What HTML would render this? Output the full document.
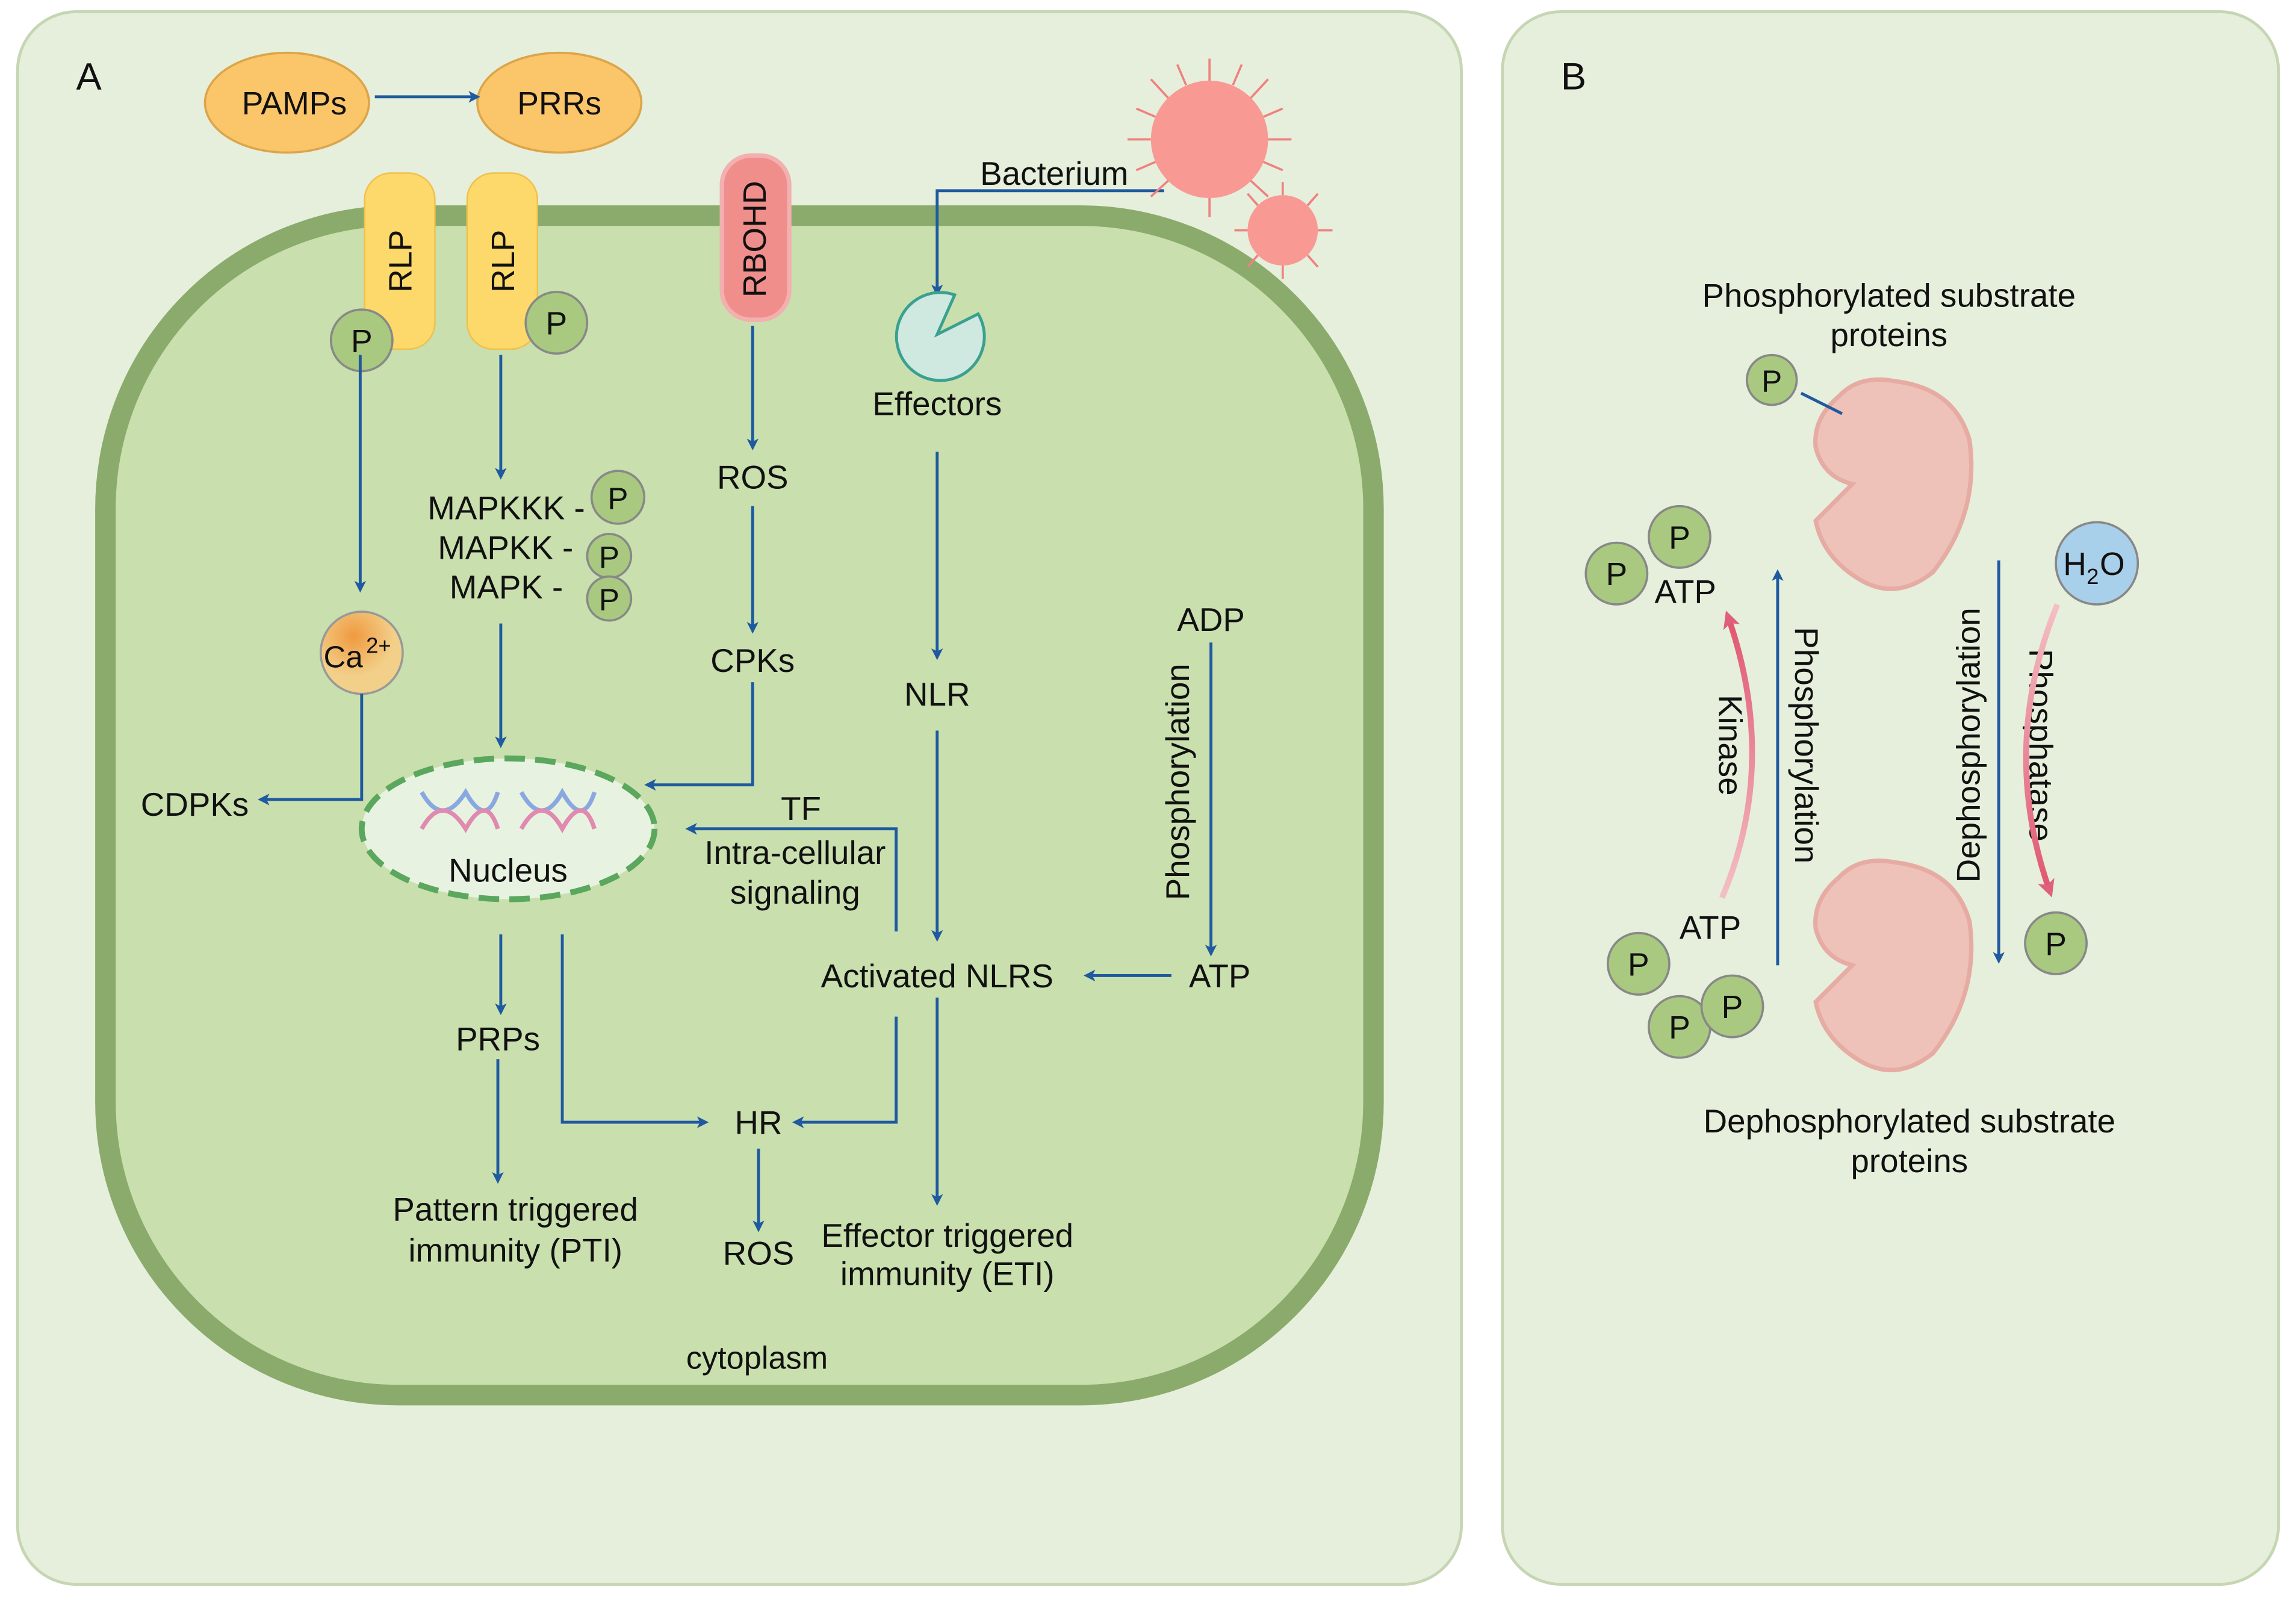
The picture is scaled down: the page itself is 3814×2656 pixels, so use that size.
<!DOCTYPE html>
<html><head><meta charset="utf-8"><style>
html,body{margin:0;padding:0;background:#fff;}
svg{display:block;}
text{font-family:"Liberation Sans",sans-serif;fill:#111;}
</style></head><body>
<svg width="3814" height="2656" viewBox="0 0 1568 1090" preserveAspectRatio="none" xmlns="http://www.w3.org/2000/svg">
<defs>
<marker id="a" markerWidth="8" markerHeight="8" refX="6" refY="4" orient="auto" markerUnits="userSpaceOnUse"><path d="M0,0 L8,4 L0,8 L2,4 z" fill="#1f5aa0"/></marker>
<marker id="pa" markerWidth="12" markerHeight="12" refX="8" refY="6" orient="auto" markerUnits="userSpaceOnUse"><path d="M0,0 L12,6 L0,12 L3,6 z" fill="#e0607a"/></marker>
<radialGradient id="ca" cx="0.4" cy="0.3"><stop offset="0" stop-color="#f09a40"/><stop offset="1" stop-color="#f2d08a"/></radialGradient>
<linearGradient id="pk1" x1="0" y1="1" x2="0" y2="0"><stop offset="0" stop-color="#f4c0c4"/><stop offset="1" stop-color="#e05570"/></linearGradient>
<linearGradient id="pk2" x1="0" y1="0" x2="0" y2="1"><stop offset="0" stop-color="#f4c0c4"/><stop offset="1" stop-color="#e05570"/></linearGradient>
</defs>
<rect x="0" y="0" width="1568" height="1090" fill="#fff"/>
<rect x="12" y="8" width="986" height="1072" rx="40" fill="#e6efdb" stroke="#c6d6b4" stroke-width="2"/>
<rect x="1026" y="8" width="530" height="1072" rx="40" fill="#e6efdb" stroke="#c6d6b4" stroke-width="2"/>
<text x="52" y="61" font-size="26">A</text>
<text x="1066" y="61" font-size="26">B</text>
<rect x="72" y="147" width="866" height="804" rx="200" fill="#c9dfad" stroke="#8aab6c" stroke-width="14"/>
<ellipse cx="196" cy="70" rx="56" ry="34" fill="#fbc56a" stroke="#dca54a" stroke-width="1.5"/>
<ellipse cx="382" cy="70" rx="56" ry="34" fill="#fbc56a" stroke="#dca54a" stroke-width="1.5"/>
<text x="201" y="78" font-size="22" text-anchor="middle">PAMPs</text>
<text x="382" y="78" font-size="22" text-anchor="middle">PRRs</text>
<line x1="256" y1="66" x2="326" y2="66" stroke="#1f5aa0" stroke-width="2" marker-end="url(#a)"/>
<rect x="249" y="118" width="48" height="120" rx="18" fill="#fdd86a" stroke="#f0c04a"/>
<rect x="319" y="118" width="48" height="120" rx="18" fill="#fdd86a" stroke="#f0c04a"/>
<text transform="translate(281,178) rotate(-90)" font-size="22" text-anchor="middle">RLP</text>
<text transform="translate(351,178) rotate(-90)" font-size="22" text-anchor="middle">RLP</text>
<rect x="493" y="106" width="46" height="112" rx="20" fill="#f08e8c" stroke="#f2b0b0" stroke-width="3"/>
<text transform="translate(523,163) rotate(-90)" font-size="22" text-anchor="middle">RBOHD</text>
<g stroke="#888" stroke-width="1.5" fill="#a8c97f">
<circle cx="247" cy="232" r="21"/><circle cx="380" cy="220" r="21"/>
<circle cx="422" cy="339" r="18"/><circle cx="416" cy="379" r="15"/><circle cx="416" cy="408" r="15"/>
</g>
<text x="247" y="240" font-size="22" text-anchor="middle">P</text>
<text x="380" y="228" font-size="22" text-anchor="middle">P</text>
<text x="422" y="347" font-size="21" text-anchor="middle">P</text>
<text x="416" y="387" font-size="21" text-anchor="middle">P</text>
<text x="416" y="416" font-size="21" text-anchor="middle">P</text>
<text x="292" y="354" font-size="22.5">MAPKKK -</text>
<text x="299" y="381" font-size="22.5">MAPKK -</text>
<text x="307" y="408" font-size="22.5">MAPK -</text>
<circle cx="247" cy="445" r="28" fill="url(#ca)" stroke="#999" stroke-width="1.5"/>
<text x="221" y="455" font-size="21">Ca</text><text x="250" y="445" font-size="15">2+</text>
<g stroke="#1f5aa0" stroke-width="2" fill="none" marker-end="url(#a)">
<line x1="246" y1="242" x2="246" y2="402"/>
<line x1="342" y1="242" x2="342" y2="325"/>
<line x1="514" y1="222" x2="514" y2="305"/>
<line x1="514" y1="345" x2="514" y2="430"/>
<line x1="640" y1="308" x2="640" y2="448"/>
<line x1="640" y1="498" x2="640" y2="640"/>
<line x1="827" y1="438" x2="827" y2="650"/>
<path d="M247,473 V545 H178"/>
<line x1="342" y1="425" x2="342" y2="508"/>
<path d="M514,465 V535 H442"/>
<path d="M612,635 V565 H470"/>
<line x1="800" y1="665" x2="742" y2="665"/>
<line x1="342" y1="637" x2="342" y2="690"/>
<line x1="340" y1="722" x2="340" y2="805"/>
<path d="M384,637 V765 H482"/>
<path d="M612,693 V765 H543"/>
<line x1="518" y1="783" x2="518" y2="838"/>
<line x1="640" y1="680" x2="640" y2="820"/>
<path d="M795,130 H640 V200"/>
</g>
<text x="133" y="556" font-size="22.5" text-anchor="middle">CDPKs</text>
<text x="514" y="333" font-size="22.5" text-anchor="middle">ROS</text>
<text x="514" y="458" font-size="22.5" text-anchor="middle">CPKs</text>
<text x="640" y="481" font-size="22.5" text-anchor="middle">NLR</text>
<text x="640" y="283" font-size="22.5" text-anchor="middle">Effectors</text>
<text x="720" y="126" font-size="22.5" text-anchor="middle">Bacterium</text>
<text x="827" y="430" font-size="22.5" text-anchor="middle">ADP</text>
<text transform="translate(812,533) rotate(-90)" font-size="22.5" text-anchor="middle">Phosphorylation</text>
<text x="833" y="673" font-size="22.5" text-anchor="middle">ATP</text>
<text x="640" y="673" font-size="22.5" text-anchor="middle">Activated NLRS</text>
<text x="547" y="559" font-size="22.5" text-anchor="middle">TF</text>
<text x="543" y="589" font-size="22.5" text-anchor="middle">Intra-cellular</text>
<text x="543" y="616" font-size="22.5" text-anchor="middle">signaling</text>
<ellipse cx="347" cy="565" rx="100" ry="48" fill="#e8f2e0" stroke="#5aa75d" stroke-width="4" stroke-dasharray="14,7"/>
<g stroke-width="3" fill="none">
<path d="M288,540 Q302,565 318,540 Q332,565 340,540" stroke="#8aa8e0"/>
<path d="M288,565 Q302,540 318,565 Q332,540 340,565" stroke="#e08ab0"/>
<path d="M356,540 Q370,565 384,540 Q398,565 406,540" stroke="#8aa8e0"/>
<path d="M356,565 Q370,540 384,565 Q398,540 406,565" stroke="#e08ab0"/>
</g>
<text x="347" y="601" font-size="22.5" text-anchor="middle">Nucleus</text>
<text x="340" y="716" font-size="22.5" text-anchor="middle">PRPs</text>
<text x="518" y="773" font-size="22.5" text-anchor="middle">HR</text>
<text x="518" y="862" font-size="22.5" text-anchor="middle">ROS</text>
<text x="352" y="832" font-size="22.5" text-anchor="middle">Pattern triggered</text>
<text x="352" y="860" font-size="22.5" text-anchor="middle">immunity (PTI)</text>
<text x="647" y="850" font-size="22.5" text-anchor="middle">Effector triggered</text>
<text x="647" y="876" font-size="22.5" text-anchor="middle">immunity (ETI)</text>
<text x="517" y="933" font-size="21.5" text-anchor="middle">cytoplasm</text>
<path d="M640,228 L668,214 A30,30 0 1 1 652,201 Z" fill="#cfe9e0" stroke="#3aa090" stroke-width="2"/>
<g stroke="#f08080" stroke-width="1.5" fill="none">
<path d="M826,55 L826,40 M866,95 L882,95 M786,95 L770,95 M826,135 L826,148 M854,67 L866,54 M798,67 L786,54 M854,123 L866,134 M798,123 L786,134 M842,58 L848,44 M810,58 L804,44 M862,80 L876,74 M790,80 L776,74 M862,110 L876,116 M790,110 L776,116"/>
<path d="M876,133 L876,124 M900,157 L910,157 M852,157 L843,157 M876,181 L876,190 M893,140 L900,132 M859,140 L852,132 M893,174 L900,182 M859,174 L852,182"/>
</g>
<circle cx="826" cy="95" r="40" fill="#f89a93"/>
<circle cx="876" cy="157" r="24" fill="#f89a93"/>
<text x="1290" y="209" font-size="22.5" text-anchor="middle">Phosphorylated substrate</text>
<text x="1290" y="236" font-size="22.5" text-anchor="middle">proteins</text>
<text x="1304" y="772" font-size="22.5" text-anchor="middle">Dephosphorylated substrate</text>
<text x="1304" y="799" font-size="22.5" text-anchor="middle">proteins</text>
<path d="M1256,270 Q1270,255 1295,260 Q1335,265 1345,300 Q1352,350 1320,390 Q1295,410 1270,395 Q1245,380 1240,355 Q1255,340 1265,330 Q1245,325 1240,305 Q1238,285 1256,270 Z" fill="#eec2b9" stroke="#e6aca3" stroke-width="3"/>
<path d="M1256,598 Q1270,583 1295,588 Q1335,593 1345,628 Q1352,678 1320,718 Q1295,738 1270,723 Q1245,708 1240,683 Q1255,668 1265,658 Q1245,653 1240,633 Q1238,613 1256,598 Z" fill="#eec2b9" stroke="#e6aca3" stroke-width="3"/>
<line x1="1230" y1="268" x2="1258" y2="282" stroke="#1f5aa0" stroke-width="2"/>
<g stroke="#1f5aa0" stroke-width="2" marker-end="url(#a)">
<line x1="1214" y1="658" x2="1214" y2="390"/>
<line x1="1365" y1="382" x2="1365" y2="655"/>
</g>
<text transform="translate(1226,508) rotate(90)" font-size="22.5" text-anchor="middle">Phosphorylation</text>
<text transform="translate(1352,508) rotate(-90)" font-size="22.5" text-anchor="middle">Dephosphorylation</text>
<text transform="translate(1174,508) rotate(90)" font-size="22.5" text-anchor="middle">Kinase</text>
<text transform="translate(1386,508) rotate(90)" font-size="22.5" text-anchor="middle">Phosphatase</text>
<path d="M1176,612 Q1215,520 1180,420" stroke="url(#pk1)" stroke-width="4" fill="none" marker-end="url(#pa)"/>
<path d="M1405,412 Q1365,510 1400,608" stroke="url(#pk2)" stroke-width="4" fill="none" marker-end="url(#pa)"/>
<g stroke="#888" stroke-width="1.5" fill="#a8c97f">
<circle cx="1210" cy="259" r="17"/>
<circle cx="1104" cy="391" r="21"/><circle cx="1147" cy="366" r="21"/>
<circle cx="1119" cy="657" r="21"/><circle cx="1147" cy="700" r="21"/><circle cx="1183" cy="686" r="21"/>
<circle cx="1404" cy="643" r="21"/>
</g>
<circle cx="1432" cy="384" r="28" fill="#a9d0ea" stroke="#888" stroke-width="1.5"/>
<text x="1210" y="267" font-size="21" text-anchor="middle">P</text>
<text x="1104" y="399" font-size="22" text-anchor="middle">P</text>
<text x="1147" y="374" font-size="22" text-anchor="middle">P</text>
<text x="1119" y="665" font-size="22" text-anchor="middle">P</text>
<text x="1147" y="708" font-size="22" text-anchor="middle">P</text>
<text x="1183" y="694" font-size="22" text-anchor="middle">P</text>
<text x="1404" y="651" font-size="22" text-anchor="middle">P</text>
<text x="1409" y="392" font-size="22">H</text><text x="1425" y="398" font-size="15">2</text><text x="1434" y="392" font-size="22">O</text>
<text x="1151" y="411" font-size="22.5" text-anchor="middle">ATP</text>
<text x="1168" y="640" font-size="22.5" text-anchor="middle">ATP</text>
</svg>
</body></html>
